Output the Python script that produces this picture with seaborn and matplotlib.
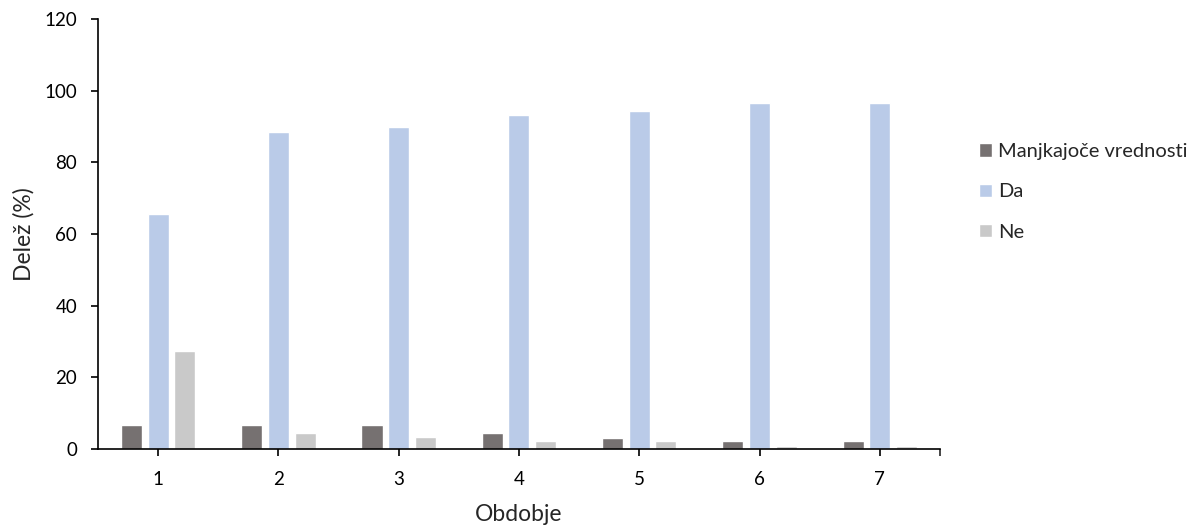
import pandas as pd
import matplotlib
matplotlib.use("Agg")
import matplotlib.pyplot as plt
import seaborn as sns

# values (percent)
periods = ["1", "2", "3", "4", "5", "6", "7"]
missing = [6.7, 6.7, 6.7, 4.4, 3.2, 2.1, 2.1]
da = [65.6, 88.5, 89.8, 93.1, 94.3, 96.6, 96.6]
ne = [27.4, 4.4, 3.3, 2.1, 2.1, 0.9, 0.9]

series_names = ["Manjkajoče vrednosti", "Da", "Ne"]
colors = ["#767171", "#BACBE8", "#C9C9C9"]

df = pd.DataFrame({
    "Obdobje": periods * 3,
    "Delez": missing + da + ne,
    "Serija": [series_names[0]] * 7 + [series_names[1]] * 7 + [series_names[2]] * 7,
})

sns.set_theme(style="white")
plt.rcParams["font.family"] = ["Lato", "DejaVu Sans"]

fig = plt.figure(figsize=(12.02, 5.26), dpi=100)
ax = fig.add_axes([0.0815, 0.1464, 0.7005, 0.8175])

sns.barplot(data=df, x="Obdobje", y="Delez", hue="Serija", order=periods,
            hue_order=series_names, palette=colors, width=0.665, gap=0.21,
            saturation=1, ax=ax)

ax.set_xlim(-0.5, 6.5)
ax.set_ylim(0, 120)
ax.set_yticks(range(0, 121, 20))
ax.set_xlabel("Obdobje", fontsize=16.5)
ax.set_ylabel("Delež (%)", fontsize=16.5)
ax.xaxis.set_label_coords(0.5, -0.128)
ax.yaxis.set_label_coords(-0.075, 0.5)
ax.tick_params(axis="both", labelsize=13.5, colors="black", direction="out",
               length=5, width=1.2, left=True, bottom=True)
ax.tick_params(axis="x", pad=11)
ax.tick_params(axis="y", pad=10)
ax.set_xticks([6.5], minor=True)
ax.tick_params(axis="x", which="minor", length=5, width=1.2, bottom=True)

for side in ["top", "right"]:
    ax.spines[side].set_visible(False)
for side in ["left", "bottom"]:
    ax.spines[side].set_color("black")
    ax.spines[side].set_linewidth(1.2)

handles, labels = ax.get_legend_handles_labels()
ax.legend(handles, labels, loc="center left", bbox_to_anchor=(1.034, 0.598),
          frameon=False, fontsize=14.5, handlelength=0.65, handleheight=0.65,
          handletextpad=0.3, labelspacing=1.15, borderpad=0)

fig.savefig("out.png", dpi=100)
